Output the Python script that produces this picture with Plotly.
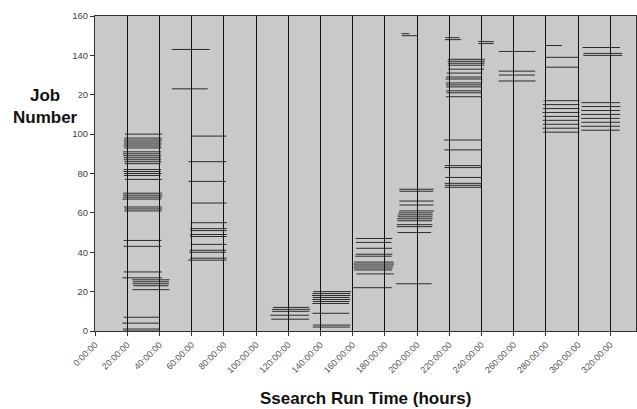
import plotly.graph_objects as go

# x tick labels (hours as h:mm:ss)
tick_hours = list(range(0, 340, 20))
tick_labels = [f"{h}:00:00" for h in tick_hours]

# ---- job segments: job number, start hour, end hour ----
job_a = [100, 98, 97, 96, 95, 94, 93, 91, 90, 89, 88, 87, 86, 85, 82, 81, 80, 79, 77,
         70, 69, 68, 67, 63, 62, 61, 46, 43, 30, 27, 26, 25, 24, 23, 21, 7, 4, 1, 0]
start_a = [18.6, 18.2, 18.0, 18.0, 18.0, 17.8, 18.3, 17.5, 17.4, 17.6, 17.8, 18.0, 18.2, 18.4,
           17.8, 17.6, 18.0, 18.0, 18.5, 17.5, 17.3, 17.5, 17.0, 18.0, 18.4, 18.2, 17.8, 17.7,
           17.9, 17.1, 23.1, 23.5, 23.3, 23.8, 23.4, 17.8, 17.0, 17.3, 17.6]
end_a = [41.7, 41.5, 41.6, 41.2, 41.4, 41.0, 41.3, 41.0, 40.8, 41.2, 40.9, 41.0, 41.2, 40.6,
         41.0, 40.8, 41.4, 40.6, 41.5, 41.7, 41.8, 41.6, 41.2, 41.6, 41.7, 41.5, 41.3, 41.0,
         41.5, 41.7, 46.3, 45.8, 46.0, 45.5, 46.2, 40.0, 40.2, 40.0, 40.1]

job_b = [143, 123, 99, 86, 76, 65, 55, 52, 51, 49, 48, 44, 41, 40, 37, 36]
start_b = [47.7, 47.7, 59.5, 58.0, 58.1, 59.4, 59.3, 59.0, 59.2, 58.9, 59.1, 59.3, 58.8, 58.5, 59.0, 57.9]
end_b = [71.2, 70.0, 81.6, 81.5, 81.3, 81.8, 81.9, 81.9, 81.8, 81.8, 81.6, 81.7, 81.5, 81.4, 81.8, 81.6]

job_c = [12, 11, 10, 8, 6]
start_c = [110.5, 109.8, 110.0, 108.9, 109.5]
end_c = [133.0, 133.6, 133.2, 132.8, 133.0]

job_d = [20, 19, 18, 17, 16, 15, 14, 9, 3, 2]
start_d = [135.5, 135.0, 134.8, 135.2, 134.9, 135.3, 135.0, 135.1, 135.4, 135.2]
end_d = [159.0, 158.5, 158.7, 158.2, 158.6, 158.0, 157.8, 157.9, 158.6, 158.3]

job_e = [47, 45, 42, 39, 38, 35, 34, 33, 32, 31, 29, 22]
start_e = [161.9, 162.0, 162.3, 162.0, 161.5, 161.0, 160.6, 160.8, 160.5, 161.0, 162.5, 160.4]
end_e = [184.6, 184.2, 184.5, 184.8, 184.3, 185.5, 185.8, 185.2, 184.9, 184.5, 185.6, 184.3]

job_f = [151, 150, 72, 71, 66, 64, 61, 60, 59, 58, 57, 56, 54, 53, 50, 24]
start_f = [190.3, 190.6, 189.0, 189.1, 189.0, 189.2, 189.0, 188.5, 188.0, 188.1, 187.6, 187.8,
           187.4, 187.5, 187.9, 187.0]
end_f = [195.2, 200.2, 210.3, 210.1, 210.3, 210.2, 210.5, 209.6, 209.8, 209.5, 209.7, 209.3,
         209.6, 209.4, 208.8, 209.1]

job_g = [149, 148, 138, 137, 136, 135, 133, 131, 129, 128, 126, 125, 124, 122, 121, 119,
         97, 92, 84, 83, 78, 75, 74, 73]
start_g = [217.5, 217.3, 219.2, 219.0, 219.3, 219.1, 219.3, 218.5, 218.0, 217.8, 217.9, 218.0,
           218.2, 218.1, 218.3, 218.0, 216.8, 217.0, 217.2, 217.0, 217.5, 217.1, 217.3, 217.2]
end_g = [226.5, 227.4, 242.1, 242.2, 242.0, 241.8, 241.6, 240.5, 240.4, 240.6, 240.5, 240.2,
         240.4, 240.0, 240.3, 240.1, 240.0, 240.4, 240.1, 240.2, 240.3, 240.3, 240.2, 240.0]

job_h = [147, 146]
start_h = [238.0, 238.2]
end_h = [247.7, 247.5]

job_i = [142, 132, 130, 127]
start_i = [250.8, 250.8, 250.9, 250.7]
end_i = [273.5, 273.4, 273.2, 273.6]

job_j = [145, 139, 134, 117, 115, 113, 111, 109, 107, 105, 103, 101]
start_j = [279.7, 279.7, 279.7, 278.5, 278.2, 278.4, 278.0, 278.3, 278.1, 278.2, 278.0, 278.4]
end_j = [290.0, 300.3, 300.3, 301.0, 300.8, 301.0, 300.9, 301.1, 300.7, 300.9, 301.0, 300.8]

job_k = [144, 141, 140, 116, 114, 112, 110, 108, 106, 104, 102]
start_k = [302.8, 303.4, 303.2, 302.0, 302.3, 302.0, 301.8, 301.9, 302.1, 301.8, 302.0]
end_k = [326.1, 327.5, 327.4, 326.1, 326.3, 326.0, 326.2, 325.9, 326.1, 326.0, 325.8]

jobs = job_a + job_b + job_c + job_d + job_e + job_f + job_g + job_h + job_i + job_j + job_k
starts = start_a + start_b + start_c + start_d + start_e + start_f + start_g + start_h + start_i + start_j + start_k
ends = end_a + end_b + end_c + end_d + end_e + end_f + end_g + end_h + end_i + end_j + end_k

xs, ys = [], []
for j, s, e in zip(jobs, starts, ends):
    xs += [s, e, None]
    ys += [j, j, None]

fig = go.Figure()
fig.add_trace(go.Scatter(x=xs, y=ys, mode="lines",
                         line=dict(color="#1a1a1a", width=0.9),
                         hoverinfo="skip", showlegend=False))

FONT = "Liberation Sans, Arial, sans-serif"

fig.update_layout(
    width=637, height=409,
    margin=dict(l=95, r=1, t=16, b=78),
    paper_bgcolor="white",
    plot_bgcolor="#c9c9c9",
    font=dict(family=FONT, color="#444444"),
    showlegend=False,
    xaxis=dict(
        range=[0, 336],
        tickvals=tick_hours, ticktext=tick_labels,
        tickangle=-45,
        tickfont=dict(size=9, color="#555555"),
        ticks="outside", ticklen=4, tickcolor="#333333",
        showgrid=True, gridcolor="#111111", gridwidth=1,
        zeroline=False, automargin=False,
        showline=True, linecolor="#333333", linewidth=1, mirror=True,
    ),
    yaxis=dict(
        range=[0, 160], dtick=20,
        tickfont=dict(size=9.5, color="#444444"),
        ticks="outside", ticklen=4, tickcolor="#333333",
        showgrid=False, zeroline=False, automargin=False,
        showline=True, linecolor="#333333", linewidth=1, mirror=True,
    ),
    annotations=[
        dict(text="<b>Job<br>Number</b>", xref="paper", yref="paper",
             x=-0.0924, y=0.712, xanchor="center", yanchor="middle",
             showarrow=False, align="center", bgcolor="white", borderpad=0,
             font=dict(family=FONT, size=17, color="#111111")),
        dict(text="<b>Ssearch Run Time (hours)</b>", xref="paper", yref="paper",
             x=0.5, y=-0.214, xanchor="center", yanchor="middle",
             showarrow=False,
             font=dict(family=FONT, size=17, color="#111111")),
    ],
)

fig.write_html("out.html",
               config={"displayModeBar": False},
               post_script="document.body.style.margin='0';document.body.style.padding='0';")
